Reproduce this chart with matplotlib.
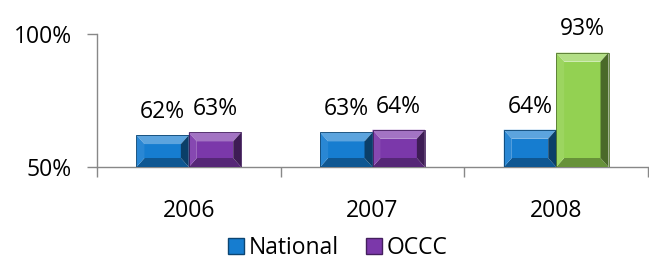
import numpy as np
import matplotlib
matplotlib.use("Agg")
import matplotlib.pyplot as plt
from matplotlib.patches import Polygon, Rectangle
from matplotlib.colors import to_rgb

years = ["2006", "2007", "2008"]
national = [62, 63, 64]
occc = [63, 64, 93]
series_names = ["National", "OCCC"]
national_colors = ["#167dd0", "#167dd0", "#167dd0"]
occc_colors = ["#7b38aa", "#7b38aa", "#93d152"]

plt.rcParams["font.family"] = ["Open Sans", "DejaVu Sans"]
FS = 16.5


def shade(c, f):
    r = np.array(to_rgb(c))
    if f > 0:
        return tuple(r + (1 - r) * f)
    return tuple(r * (1 + f))


def bevel_bar(ax, x0, w, y0, y1, color, bx, by):
    # flat face plus four bevel edges, like the office "bevel" bar style
    x1 = x0 + w
    by = min(by, (y1 - y0) / 2)
    ix0, ix1, iy0, iy1 = x0 + bx, x1 - bx, y0 + by, y1 - by
    faces = [
        ([(x0, y1), (x1, y1), (ix1, iy1), (ix0, iy1)], shade(color, 0.3)),
        ([(x0, y0), (x1, y0), (ix1, iy0), (ix0, iy0)], shade(color, -0.3)),
        ([(x0, y0), (ix0, iy0), (ix0, iy1), (x0, y1)], shade(color, 0.08)),
        ([(x1, y0), (ix1, iy0), (ix1, iy1), (x1, y1)], shade(color, -0.5)),
    ]
    ax.add_patch(Rectangle((ix0, iy0), ix1 - ix0, iy1 - iy0, color=color, lw=0, zorder=3))
    for pts, c in faces:
        ax.add_patch(Polygon(pts, closed=True, color=c, lw=0, zorder=3))
    ax.add_patch(Rectangle((x0, y0), w, y1 - y0, fill=False, ec=shade(color, -0.45), lw=0.6, zorder=4))


fig = plt.figure(figsize=(6.49, 2.59), dpi=100)
ax = fig.add_axes([97 / 649, 1 - 167 / 259, 551 / 649, 133 / 259])

ymin, ymax = 50, 100
ax.set_xlim(0, len(years))
ax.set_ylim(ymin, ymax)

w = 0.285
bx = 8 / 184
by = 9 / 133 * (ymax - ymin)
for i in range(len(years)):
    c = i + 0.5
    bevel_bar(ax, c - w, w, ymin, national[i], national_colors[i], bx, by)
    bevel_bar(ax, c, w, ymin, occc[i], occc_colors[i], bx, by)
    ax.text(c - w / 2, national[i] + 4.2, f"{national[i]}%", ha="center", va="bottom", fontsize=FS)
    ax.text(c + w / 2, occc[i] + 4.2, f"{occc[i]}%", ha="center", va="bottom", fontsize=FS)

ax.set_yticks([50, 100])
ax.set_yticklabels(["50%", "100%"], fontsize=FS)
ax.set_xticks(np.arange(len(years) + 1))
ax.set_xticklabels([])
ax.set_xticks(np.arange(len(years)) + 0.5, minor=True)
ax.set_xticklabels(years, minor=True, fontsize=FS)
ax.tick_params(axis="x", which="minor", length=0, pad=23)
ax.tick_params(axis="x", which="major", length=7, color="#888888", width=1)
ax.tick_params(axis="y", length=7, color="#888888", width=1, pad=11)

for s in ["top", "right"]:
    ax.spines[s].set_visible(False)
for s in ["left", "bottom"]:
    ax.spines[s].set_color("#888888")
    ax.spines[s].set_linewidth(1)

handles = [Rectangle((0, 0), 1, 1, fc=national_colors[0], ec=shade(national_colors[0], -0.45)),
           Rectangle((0, 0), 1, 1, fc=occc_colors[0], ec=shade(occc_colors[0], -0.45))]
fig.legend(handles, series_names, loc="center", bbox_to_anchor=(338 / 649, 1 - 248 / 259),
           ncol=2, frameon=False, fontsize=FS, handlelength=0.7, handleheight=0.7,
           handletextpad=0.2, columnspacing=1.2, borderaxespad=0)

fig.savefig("out.png", dpi=100)
